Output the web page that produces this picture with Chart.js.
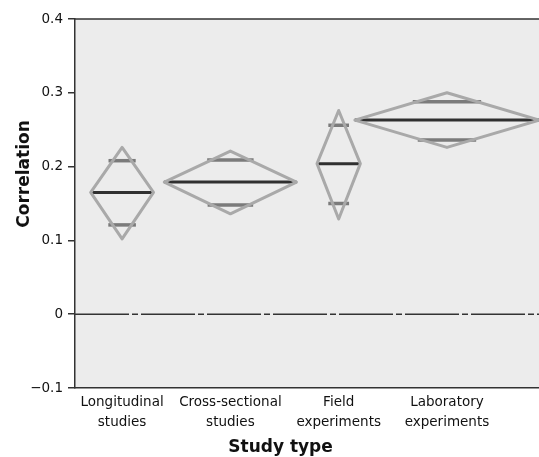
<!DOCTYPE html>
<html>
<head>
<meta charset="utf-8">
<script src="https://cdn.jsdelivr.net/npm/chart.js@4/dist/chart.umd.min.js"></script>
<style>
  html, body { margin: 0; padding: 0; background: #ffffff; }
  canvas { display: block; }
</style>
</head>
<body>
<canvas id="c" width="539" height="457"></canvas>
<script>
// ---- data ----
const categories = [["Longitudinal", "studies"], ["Cross-sectional", "studies"], ["Field", "experiments"], ["Laboratory", "experiments"]];
const meanCorr   = [0.165, 0.179, 0.204, 0.263];
const outerUpper = [0.226, 0.221, 0.276, 0.300];
const outerLower = [0.102, 0.136, 0.129, 0.226];
const innerUpper = [0.208, 0.209, 0.256, 0.288];
const innerLower = [0.121, 0.148, 0.150, 0.236];
const relWeight  = [0.29, 0.61, 0.20, 0.85];   // diamond half-width, in category units
const yTicks     = [-0.1, 0, 0.1, 0.2, 0.3, 0.4];
const xTitle = "Study type";
const yTitle = "Correlation";

const X_MIN = 0.565, X_MAX = 4.85;
const STROKE_EXT = 0.04; // inner bars reach into the diamond outline stroke

// ---- build datasets ----
const datasets = [];
categories.forEach((c, i) => {
  const cx = i + 1, w = relWeight[i];
  datasets.push({
    label: 'diamond' + i,
    data: [
      { x: cx - w, y: meanCorr[i] },
      { x: cx, y: outerUpper[i] },
      { x: cx + w, y: meanCorr[i] },
      { x: cx, y: outerLower[i] },
      { x: cx - w, y: meanCorr[i] }
    ],
    borderColor: '#a9a9a9', borderWidth: 3, borderJoinStyle: 'round', borderCapStyle: 'round',
    pointRadius: 0, showLine: true, fill: false, tension: 0
  });
});
categories.forEach((c, i) => {
  const cx = i + 1, w = relWeight[i];
  const hu = w * (outerUpper[i] - innerUpper[i]) / (outerUpper[i] - meanCorr[i]) + STROKE_EXT;
  const hl = w * (innerLower[i] - outerLower[i]) / (meanCorr[i] - outerLower[i]) + STROKE_EXT;
  datasets.push({
    label: 'innerU' + i,
    data: [{ x: cx - hu, y: innerUpper[i] }, { x: cx + hu, y: innerUpper[i] }],
    borderColor: '#7b7b7b', borderWidth: 3.5, pointRadius: 0, showLine: true, fill: false
  });
  datasets.push({
    label: 'innerL' + i,
    data: [{ x: cx - hl, y: innerLower[i] }, { x: cx + hl, y: innerLower[i] }],
    borderColor: '#7b7b7b', borderWidth: 3.5, pointRadius: 0, showLine: true, fill: false
  });
});
categories.forEach((c, i) => {
  const cx = i + 1, w = relWeight[i];
  datasets.push({
    label: 'mean' + i,
    data: [{ x: cx - w, y: meanCorr[i] }, { x: cx + w, y: meanCorr[i] }],
    borderColor: '#303030', borderWidth: 3, pointRadius: 0, showLine: true, fill: false
  });
});
datasets.push({
  label: 'zero',
  data: [{ x: X_MIN, y: 0 }, { x: X_MAX, y: 0 }],
  borderColor: '#333333', borderWidth: 1.5, borderDash: [54, 3, 6, 3],
  pointRadius: 0, showLine: true, fill: false
});

const plotDecor = {
  id: 'plotDecor',
  beforeDraw(chart) {
    const { ctx, chartArea: a } = chart;
    ctx.save();
    ctx.fillStyle = '#ececec';
    ctx.fillRect(a.left, a.top, a.right - a.left, a.bottom - a.top);
    ctx.restore();
  },
  afterDraw(chart) {
    const { ctx, chartArea: a, scales } = chart;
    ctx.save();
    ctx.strokeStyle = '#333333';
    ctx.lineWidth = 1.5;
    ctx.beginPath();
    ctx.moveTo(a.left, a.top);
    ctx.lineTo(a.right, a.top);
    ctx.stroke();
    // axis titles
    ctx.fillStyle = '#111111';
    ctx.font = 'bold 17px "DejaVu Sans", sans-serif';
    ctx.textAlign = 'center';
    ctx.textBaseline = 'middle';
    const tx = scales.x.getPixelForValue(2.5);
    ctx.fillText(xTitle, tx - 4, 448);
    ctx.translate(25, scales.y.getPixelForValue(0.19));
    ctx.rotate(-Math.PI / 2);
    ctx.fillText(yTitle, 0, 0);
    ctx.restore();
  }
};

new Chart(document.getElementById('c'), {
  type: 'scatter',
  data: { datasets },
  plugins: [plotDecor],
  options: {
    responsive: false,
    animation: false,
    devicePixelRatio: 1,
    layout: { padding: { top: 19, right: 0, bottom: 0, left: 0 } },
    plugins: { legend: { display: false }, tooltip: { enabled: false }, title: { display: false } },
    scales: {
      x: {
        type: 'linear', min: X_MIN, max: X_MAX,
        afterBuildTicks: s => { s.ticks = categories.map((c, i) => ({ value: i + 1 })); },
        afterFit: s => { s.height = 69; },
        ticks: {
          autoSkip: false, maxRotation: 0, padding: 5, color: '#111111',
          font: { family: '"DejaVu Sans", sans-serif', size: 13.5, lineHeight: 1.45 },
          callback: v => categories[Math.round(v) - 1]
        },
        grid: { drawOnChartArea: false, drawTicks: false },
        border: { display: true, color: '#333333', width: 1.5 }
      },
      y: {
        type: 'linear', min: -0.1, max: 0.4,
        afterBuildTicks: s => { s.ticks = yTicks.map(v => ({ value: v })); },
        afterFit: s => { s.width = 75; },
        ticks: {
          padding: 5, color: '#111111',
          font: { family: '"DejaVu Sans", sans-serif', size: 13.5 },
          callback: v => Math.abs(v) < 1e-9 ? '0' : (v < 0 ? '\u2212' : '') + Math.abs(v).toFixed(1)
        },
        grid: { drawOnChartArea: false, drawTicks: true, tickLength: 7, color: '#333333', lineWidth: 1.5 },
        border: { display: true, color: '#333333', width: 1.5 }
      }
    }
  }
});
</script>
</body>
</html>
